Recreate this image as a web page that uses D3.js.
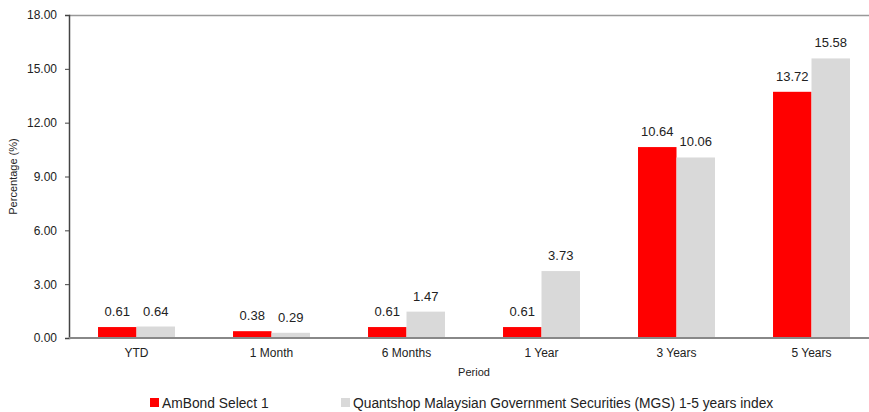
<!DOCTYPE html>
<html>
<head>
<meta charset="utf-8">
<script src="https://cdn.jsdelivr.net/npm/d3@7"></script>
<style>
    body { margin: 0; background: #fff; }
    svg { display: block; font-family: "Liberation Sans", Arial, sans-serif; }
    .axis text { fill: #222; font-size: 12px; }
</style>
</head>
<body>
<div id="chart"></div>
<script>
"use strict";

var periods = ["YTD", "1 Month", "6 Months", "1 Year", "3 Years", "5 Years"];
var seriesNames = ["AmBond Select 1",
                   "Quantshop Malaysian Government Securities (MGS) 1-5 years index"];
var fundVals = [0.61, 0.38, 0.61, 0.61, 10.64, 13.72];
var indexVals = [0.64, 0.29, 1.47, 3.73, 10.06, 15.58];
var yTicks = [0, 3, 6, 9, 12, 15, 18];
var colors = ["#ff0000", "#d9d9d9"];

var W = 869, H = 412;
var margin = {top: 15, left: 69, bottom: 74};
var plotH = H - margin.top - margin.bottom;   // 323
var plotW = 810;                              // bands run past the right edge

var svg = d3.select("#chart").append("svg")
    .attr("width", W).attr("height", H);

var x = d3.scaleBand().domain(periods)
    .range([0, plotW]).paddingInner(0.43).paddingOuter(0.215);
var x1 = d3.scaleBand().domain([0, 1]).range([0, x.bandwidth()]);
var y = d3.scaleLinear().domain([0, 18]).range([plotH, 0]);

var g = svg.append("g")
    .attr("transform", "translate(" + margin.left + "," + margin.top + ")");

//top border line
g.append("line")
    .attr("x1", 0).attr("x2", W).attr("y1", 0.5).attr("y2", 0.5)
    .attr("stroke", "#999").attr("stroke-width", 1.5);

var rows = periods.map(function (p, i) {
    return {p: p, vals: [fundVals[i], indexVals[i]]};
});

var grp = g.selectAll(".grp").data(rows).enter().append("g")
    .attr("class", "grp")
    .attr("transform", function (d) { return "translate(" + x(d.p) + ",0)"; });

grp.selectAll("rect")
    .data(function (d) { return d.vals.map(function (v, k) { return {k: k, v: v}; }); })
    .enter().append("rect")
    .attr("x", function (d) { return x1(d.k); })
    .attr("width", x1.bandwidth())
    .attr("y", function (d) { return y(d.v); })
    .attr("height", function (d) { return plotH - y(d.v); })
    .attr("fill", function (d) { return colors[d.k]; });

grp.selectAll("text.val")
    .data(function (d) { return d.vals.map(function (v, k) { return {k: k, v: v}; }); })
    .enter().append("text")
    .attr("class", "val")
    .attr("x", function (d) { return x1(d.k) + x1.bandwidth() / 2; })
    .attr("y", function (d) { return y(d.v) - 11; })
    .attr("text-anchor", "middle")
    .attr("font-size", "13px")
    .attr("fill", "#222")
    .text(function (d) { return d.v.toFixed(2); });

//y axis
var yAxis = d3.axisLeft(y).tickValues(yTicks)
    .tickFormat(d3.format(".2f")).tickSize(4).tickPadding(8);
var ya = g.append("g").attr("class", "axis").call(yAxis);
ya.select(".domain").attr("stroke", "#444").attr("stroke-width", 1.5);
ya.selectAll(".tick line").attr("stroke", "#444");

//x axis
var xAxis = d3.axisBottom(x).tickSize(0).tickPadding(10);
var xa = g.append("g").attr("class", "axis")
    .attr("transform", "translate(0," + plotH + ")")
    .call(xAxis);
xa.select(".domain").remove();
xa.append("line")
    .attr("x1", 0).attr("x2", W).attr("y1", 0).attr("y2", 0)
    .attr("stroke", "#888").attr("stroke-width", 2);

//axis titles
svg.append("text")
    .attr("transform", "translate(17," + (margin.top + plotH / 2) + ") rotate(-90)")
    .attr("text-anchor", "middle").attr("font-size", "11px").attr("fill", "#222")
    .text("Percentage (%)");
svg.append("text")
    .attr("x", margin.left + plotW / 2).attr("y", 376)
    .attr("text-anchor", "middle").attr("font-size", "11px").attr("fill", "#222")
    .text("Period");

//legend
var legX = [150, 341];
var leg = svg.selectAll(".leg").data(seriesNames).enter().append("g")
    .attr("class", "leg")
    .attr("transform", function (d, i) { return "translate(" + legX[i] + ",398)"; });
leg.append("rect").attr("width", 9).attr("height", 9)
    .attr("fill", function (d, i) { return colors[i]; });
leg.append("text").attr("x", 12).attr("y", 10)
    .attr("font-size", "13.8px").attr("fill", "#222")
    .text(function (d) { return d; });
</script>
</body>
</html>
